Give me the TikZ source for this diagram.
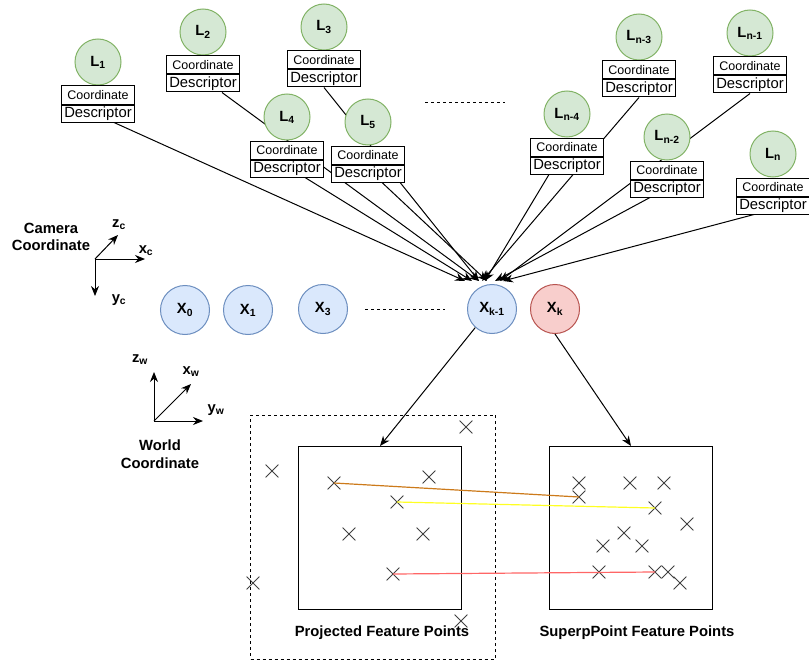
\documentclass[tikz,border=0pt]{standalone}
\usepackage{fontspec}
\setmainfont{Liberation Sans}
\usetikzlibrary{positioning,arrows.meta,shapes.misc,backgrounds}
\definecolor{lmfill}{HTML}{D5E8D4}
\definecolor{lmline}{HTML}{82B366}
\definecolor{posefill}{HTML}{DAE8FC}
\definecolor{poseline}{HTML}{6C8EBF}
\definecolor{keyfill}{HTML}{F8CECC}
\definecolor{keyline}{HTML}{B85450}
\definecolor{matchorange}{HTML}{CC7A1A}
\definecolor{matchyellow}{HTML}{FFFF22}
\definecolor{matchred}{HTML}{FF6666}
\newcommand{\lblfont}{\fontsize{14.8}{17.5}\selectfont\bfseries}
\begin{document}
\begin{tikzpicture}[
            x=1pt, y=-1pt,
            every node/.style={align=center},
            landmark/.style={circle, draw=lmline, fill=lmfill, line width=1pt,
                minimum size=46pt, inner sep=0pt, font=\lblfont},
            coordbox/.style={draw, fill=white, line width=1pt, minimum width=73pt,
                minimum height=18pt, inner sep=0pt, font=\fontsize{12.5}{13}\selectfont},
            descbox/.style={draw, fill=white, line width=1pt, minimum width=73pt,
                minimum height=17pt, inner sep=0pt, font=\fontsize{14.8}{15}\selectfont},
            pose/.style={circle, draw=poseline, fill=posefill, line width=1pt,
                minimum size=49pt, inner sep=0pt, font=\lblfont},
            keyframe/.style={pose, draw=keyline, fill=keyfill},
            arr/.style={-{Stealth[length=10pt,width=8pt]}, line width=1pt},
            feat/.style={cross out, draw=black!75, minimum size=12pt, inner sep=0pt, line width=0.8pt},
            match/.style={line width=1.2pt},
            axislbl/.style={font=\lblfont, inner sep=0pt}
        ]
            \useasboundingbox (0,0) rectangle (809,661);

            % landmarks
            \node[landmark] (l1) at (98,62) {L\textsubscript{1}};
            \node[coordbox, below=0pt of l1] (c1) {Coordinate};
            \node[descbox, below=0pt of c1] (d1) {Descriptor};
            \node[landmark] (l2) at (203,32) {L\textsubscript{2}};
            \node[coordbox, below=0pt of l2] (c2) {Coordinate};
            \node[descbox, below=0pt of c2] (d2) {Descriptor};
            \node[landmark] (l3) at (324,27) {L\textsubscript{3}};
            \node[coordbox, below=0pt of l3] (c3) {Coordinate};
            \node[descbox, below=0pt of c3] (d3) {Descriptor};
            \node[landmark] (l4) at (287,117) {L\textsubscript{4}};
            \node[coordbox, below=0pt of l4] (c4) {Coordinate};
            \node[descbox, below=0pt of c4] (d4) {Descriptor};
            \node[landmark] (l5) at (368,122) {L\textsubscript{5}};
            \node[coordbox, below=0pt of l5] (c5) {Coordinate};
            \node[descbox, below=0pt of c5] (d5) {Descriptor};
            \node[landmark] (ln4) at (567,114) {L\textsubscript{n-4}};
            \node[coordbox, below=0pt of ln4] (cn4) {Coordinate};
            \node[descbox, below=0pt of cn4] (dn4) {Descriptor};
            \node[landmark] (ln3) at (639,37) {L\textsubscript{n-3}};
            \node[coordbox, below=0pt of ln3] (cn3) {Coordinate};
            \node[descbox, below=0pt of cn3] (dn3) {Descriptor};
            \node[landmark] (ln2) at (667,137) {L\textsubscript{n-2}};
            \node[coordbox, below=0pt of ln2] (cn2) {Coordinate};
            \node[descbox, below=0pt of cn2] (dn2) {Descriptor};
            \node[landmark] (ln1) at (750,33) {L\textsubscript{n-1}};
            \node[coordbox, below=0pt of ln1] (cn1) {Coordinate};
            \node[descbox, below=0pt of cn1] (dn1) {Descriptor};
            \node[landmark] (ln) at (773,154) {L\textsubscript{n}};
            \node[coordbox, below=0pt of ln] (cn) {Coordinate};
            \node[descbox, below=0pt of cn] (dn) {Descriptor};
            \draw[dashed] (425,102) -- (505,102);

            % poses
            \node[pose] (x0) at (185,310) {X\textsubscript{0}};
            \node[pose] (x1) at (248,310) {X\textsubscript{1}};
            \node[pose] (x3) at (323,309) {X\textsubscript{3}};
            \node[pose] (xk1) at (492,309) {X\textsubscript{k-1}};
            \node[keyframe] (xk) at (555,309) {X\textsubscript{k}};
            \draw[dashed, shorten <=17pt, shorten >=22pt] (x3) -- (xk1);

            \begin{scope}[on background layer]
                \draw[arr] ([xshift=16pt]d1.south) -- ([xshift=-27pt,yshift=3pt]xk1.north);
                \draw[arr] ([xshift=19pt]d2.south) -- ([xshift=-13pt,yshift=3pt]xk1.north);
                \draw[arr] (d3.south) -- ([xshift=-13pt,yshift=3pt]xk1.north);
                \draw[arr] ([xshift=18pt]d4.south) -- ([xshift=-20pt,yshift=3pt]xk1.north);
                \draw[arr] ([xshift=14pt]d5.south) -- ([xshift=-5pt,yshift=3pt]xk1.north);
                \draw[arr] ([xshift=-18pt]dn4.south) -- ([xshift=-7pt,yshift=3pt]xk1.north);
                \draw[arr] (dn3.south) -- ([xshift=-10pt,yshift=3pt]xk1.north);
                \draw[arr] ([xshift=-17pt]dn2.south) -- ([xshift=3pt,yshift=3pt]xk1.north);
                \draw[arr] (dn1.south) -- ([xshift=8pt,yshift=3pt]xk1.north);
                \draw[arr] ([xshift=-19pt]dn.south) -- ([xshift=11pt,yshift=3pt]xk1.north);
            \end{scope}

            % camera and world frames
            \node[font=\lblfont] (camlbl) at (51,237) {Camera\\Coordinate};
            \coordinate (co) at (95,259);
            \coordinate (cx) at (145,259);
            \coordinate (cz) at (118,235);
            \coordinate (cy) at (95,296);
            \draw[arr] (co) -- (cx);
            \draw[arr] (co) -- (cz);
            \draw[arr] (co) -- (cy);
            \node[axislbl] (cxlbl) at (146,251) {x\textsubscript{c}};
            \node[axislbl] (czlbl) at (119,225) {z\textsubscript{c}};
            \node[axislbl] (cylbl) at (119,300) {y\textsubscript{c}};

            \node[font=\lblfont] (wldlbl) at (160,454) {World\\Coordinate};
            \coordinate (wo) at (154,421);
            \coordinate (wz) at (154,372);
            \coordinate (wx) at (191,384);
            \coordinate (wy) at (203,421);
            \draw[arr] (wo) -- (wz);
            \draw[arr] (wo) -- (wx);
            \draw[arr] (wo) -- (wy);
            \node[axislbl] (wzlbl) at (140,360) {z\textsubscript{w}};
            \node[axislbl] (wxlbl) at (191,372) {x\textsubscript{w}};
            \node[axislbl] (wylbl) at (216,410) {y\textsubscript{w}};

            % feature point frames
            \node[draw, dash pattern=on 3pt off 3pt, line width=0.9pt,
                minimum width=245pt, minimum height=244pt] (frame) at (373,537) {};
            \node[draw, line width=1pt, minimum size=163pt] (proj) at (380,528) {};
            \node[draw, line width=1pt, minimum size=163pt] (sp) at (631,528) {};
            \node[font=\lblfont] (projlbl) at (382,633) {Projected Feature Points};
            \node[font=\lblfont] (splbl) at (637,633) {SuperpPoint Feature Points};
            \draw[arr] (xk1.228) -- (proj.north);
            \draw[arr] (xk.south) -- (sp.north);

            \node[feat] (p1) at (466,427) {};
            \node[feat] (p2) at (272,471) {};
            \node[feat] (p3) at (334,483) {};
            \node[feat] (p4) at (429,477) {};
            \node[feat] (p5) at (397,502) {};
            \node[feat] (p6) at (349,534) {};
            \node[feat] (p7) at (423,534) {};
            \node[feat] (p8) at (393,574) {};
            \node[feat] (p9) at (253,583) {};
            \node[feat] (p10) at (461,621) {};

            \node[feat] (s1) at (579,483) {};
            \node[feat] (s2) at (579,497) {};
            \node[feat] (s3) at (630,483) {};
            \node[feat] (s4) at (664,483) {};
            \node[feat] (s5) at (655,508) {};
            \node[feat] (s6) at (687,524) {};
            \node[feat] (s7) at (624,533) {};
            \node[feat] (s8) at (603,546) {};
            \node[feat] (s9) at (642,546) {};
            \node[feat] (s10) at (599,572) {};
            \node[feat] (s11) at (655,572) {};
            \node[feat] (s12) at (668,572) {};
            \node[feat] (s13) at (680,583) {};

            \draw[match, matchorange] (p3.center) -- (s2.center);
            \draw[match, matchyellow] (p5.center) -- (s5.center);
            \draw[match, matchred] (p8.center) -- (s11.center);
        \end{tikzpicture}
\end{document}
